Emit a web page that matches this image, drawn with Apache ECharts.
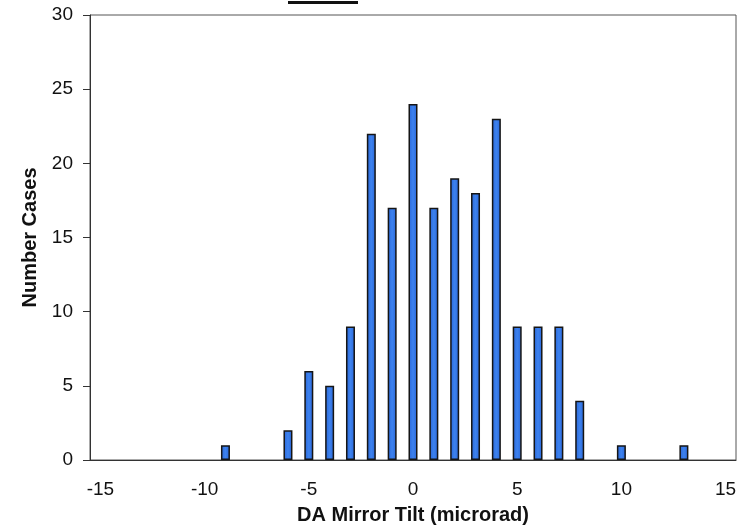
<!DOCTYPE html>
<html lang="en">
<head>
  <meta charset="utf-8">
  <title>DA Mirror Tilt histogram</title>
  <script src="https://cdn.jsdelivr.net/npm/echarts@6/dist/echarts.min.js"></script>
  <style>
    html, body { margin: 0; padding: 0; background: #fff; }
    #chart { width: 741px; height: 531px; }
  </style>
</head>
<body>
<div id="chart"></div>
<script type="text/javascript">
  // tilt bins (microrad) and number of cases in each
  var tilts = [-15, -14, -13, -12, -11, -10, -9, -8, -7, -6, -5, -4, -3, -2, -1, 0,
               1, 2, 3, 4, 5, 6, 7, 8, 9, 10, 11, 12, 13, 14, 15];
  var cases = [0, 0, 0, 0, 0, 0, 1, 0, 0, 2, 6, 5, 9, 22, 17, 24,
               17, 19, 18, 23, 9, 9, 9, 4, 0, 1, 0, 0, 1, 0, 0];
  var yTicks = [0, 5, 10, 15, 20, 25, 30];

  var font = '"Liberation Sans", Arial, sans-serif';
  var chart = echarts.init(document.getElementById('chart'));

  var option = {
    animation: false,
    backgroundColor: '#fff',
    grid: {
      left: 90, right: 5, top: 15, bottom: 71,
      show: true, borderColor: '#555', borderWidth: 1
    },
    // bottom of the clipped title's underline
    graphic: [{
      type: 'rect', left: 288, top: 1,
      shape: { width: 70, height: 3 },
      style: { fill: '#111' }
    }],
    xAxis: {
      type: 'category',
      data: tilts.map(String),
      name: 'DA Mirror Tilt (microrad)',
      nameLocation: 'middle',
      nameGap: 45,
      nameTextStyle: { fontFamily: font, fontSize: 20, fontWeight: 'bold', color: '#111' },
      axisLine: { lineStyle: { color: '#333', width: 1 } },
      axisTick: { length: 6, lineStyle: { color: '#333' }, interval: 0 },
      axisLabel: {
        interval: 4, margin: 20,
        fontFamily: font, fontSize: 19, color: '#111'
      },
      splitLine: { show: false }
    },
    yAxis: {
      type: 'value',
      min: yTicks[0], max: yTicks[yTicks.length - 1], interval: 5,
      name: 'Number Cases',
      nameLocation: 'middle',
      nameGap: 50,
      nameTextStyle: { fontFamily: font, fontSize: 20, fontWeight: 'bold', color: '#111' },
      axisLine: { show: true, lineStyle: { color: '#333', width: 1 } },
      axisTick: { show: true, length: 7, lineStyle: { color: '#333' } },
      axisLabel: { margin: 17, fontFamily: font, fontSize: 19, color: '#111' },
      splitLine: { show: false }
    },
    series: [{
      type: 'bar',
      // empty bins are not drawn
      data: cases.map(function (v) { return v === 0 ? '-' : v; }),
      barWidth: 9,
      itemStyle: {
        color: new echarts.graphic.LinearGradient(0, 0, 1, 0, [
          { offset: 0, color: '#2a66d8' },
          { offset: 0.5, color: '#3d82ee' },
          { offset: 1, color: '#2a66d8' }
        ]),
        borderColor: '#151515',
        borderWidth: 1.5
      }
    }]
  };

  chart.setOption(option);
</script>
</body>
</html>
